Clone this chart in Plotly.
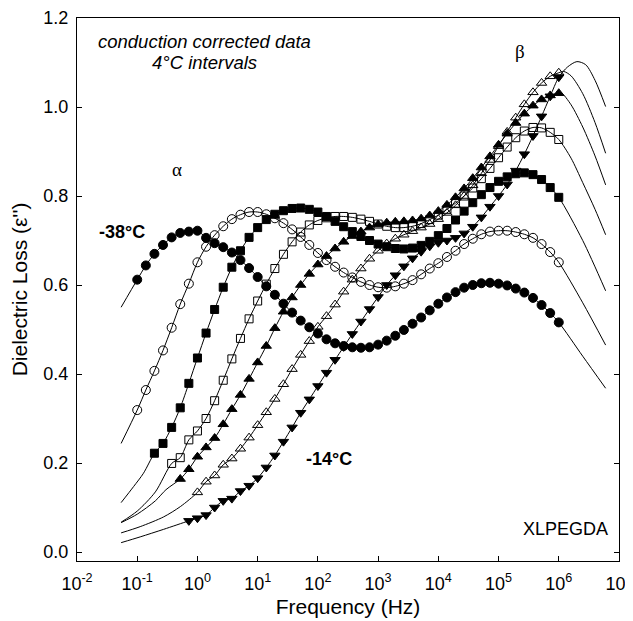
import plotly.graph_objects as go

# Measurement frequencies (Hz), 7 points per decade
FREQ = [0.1, 0.139, 0.193, 0.268, 0.373, 0.518, 0.72,
        1.0, 1.39, 1.93, 2.68, 3.73, 5.18, 7.2,
        10, 13.9, 19.3, 26.8, 37.3, 51.8, 72,
        100, 139, 193, 268, 373, 518, 720,
        1e3, 1.39e3, 1.93e3, 2.68e3, 3.73e3, 5.18e3, 7.2e3,
        1e4, 1.39e4, 1.93e4, 2.68e4, 3.73e4, 5.18e4, 7.2e4,
        1e5, 1.39e5, 1.93e5, 2.68e5, 3.73e5, 5.18e5, 7.2e5,
        1e6]

TEMPS = ["-38°C", "-34°C", "-30°C", "-26°C", "-22°C", "-18°C", "-14°C"]
START = [0, 0, 2, 4, 5, 7, 6]   # index into FREQ of first measured point

Y_M38 = [0.612, 0.644, 0.670, 0.690, 0.707, 0.717, 0.720, 0.722, 0.706, 0.694,
         0.685, 0.673, 0.656, 0.638, 0.618, 0.597, 0.578, 0.558, 0.538, 0.520,
         0.505, 0.491, 0.478, 0.469, 0.463, 0.460, 0.459, 0.460, 0.466, 0.475,
         0.486, 0.499, 0.513, 0.527, 0.543, 0.558, 0.572, 0.584, 0.594, 0.600,
         0.604, 0.605, 0.603, 0.599, 0.592, 0.583, 0.571, 0.555, 0.537, 0.516]
Y_M34 = [0.319, 0.364, 0.407, 0.453, 0.504, 0.557, 0.603, 0.651, 0.686, 0.712,
         0.732, 0.748, 0.758, 0.764, 0.764, 0.759, 0.750, 0.739, 0.725, 0.708,
         0.690, 0.672, 0.656, 0.641, 0.628, 0.617, 0.607, 0.600, 0.595, 0.594,
         0.597, 0.603, 0.611, 0.624, 0.637, 0.649, 0.663, 0.677, 0.692, 0.704,
         0.714, 0.720, 0.722, 0.722, 0.719, 0.714, 0.706, 0.692, 0.674, 0.651]
Y_M30 = [0.222, 0.244, 0.280, 0.324, 0.379, 0.436, 0.492, 0.545, 0.595, 0.640,
         0.677, 0.707, 0.729, 0.747, 0.759, 0.767, 0.772, 0.773, 0.770, 0.764,
         0.754, 0.743, 0.731, 0.720, 0.709, 0.700, 0.692, 0.686, 0.682, 0.681,
         0.683, 0.689, 0.698, 0.711, 0.727, 0.746, 0.766, 0.785, 0.803, 0.819,
         0.833, 0.843, 0.850, 0.852, 0.848, 0.837, 0.819, 0.797]
Y_M26 = [0.199, 0.212, 0.252, 0.272, 0.300, 0.340, 0.386, 0.434, 0.480, 0.524,
         0.564, 0.602, 0.637, 0.669, 0.697, 0.719, 0.735, 0.745, 0.751, 0.754,
         0.754, 0.752, 0.748, 0.743, 0.737, 0.732, 0.729, 0.729, 0.732, 0.738,
         0.747, 0.757, 0.770, 0.784, 0.800, 0.818, 0.839, 0.862, 0.886, 0.910,
         0.931, 0.946, 0.954, 0.953, 0.943, 0.927]
Y_M22 = [0.164, 0.186, 0.214, 0.235, 0.256, 0.287, 0.321, 0.353, 0.389, 0.426,
         0.463, 0.503, 0.540, 0.572, 0.600, 0.625, 0.646, 0.665, 0.682, 0.697,
         0.710, 0.720, 0.729, 0.736, 0.740, 0.742, 0.743, 0.745, 0.749, 0.756,
         0.766, 0.780, 0.797, 0.817, 0.840, 0.864, 0.889, 0.915, 0.940, 0.964,
         0.985, 1.003, 1.017, 1.026, 1.031]
Y_M18 = [0.134, 0.158, 0.172, 0.196, 0.210, 0.232, 0.257, 0.285, 0.314, 0.344,
         0.377, 0.411, 0.443, 0.474, 0.506, 0.530, 0.556, 0.585, 0.612, 0.637,
         0.659, 0.677, 0.693, 0.704, 0.713, 0.721, 0.729, 0.737, 0.748, 0.762,
         0.779, 0.800, 0.824, 0.851, 0.881, 0.912, 0.944, 0.976, 1.006, 1.033,
         1.054, 1.069, 1.077]
Y_M14 = [0.070, 0.076, 0.083, 0.100, 0.115, 0.120, 0.137, 0.149, 0.166, 0.190,
         0.217, 0.248, 0.280, 0.313, 0.343, 0.373, 0.403, 0.432, 0.461, 0.490,
         0.518, 0.546, 0.573, 0.600, 0.622, 0.642, 0.660, 0.675, 0.687, 0.695,
         0.700, 0.706, 0.716, 0.731, 0.752, 0.776, 0.800, 0.826, 0.857, 0.894,
         0.935, 0.979, 1.024, 1.067]
Y_ALL = [Y_M38, Y_M34, Y_M30, Y_M26, Y_M22, Y_M18, Y_M14]

FIT_LO_F = [[0.054], [0.054], [0.054, 0.087, 0.127], [0.054, 0.1, 0.2],
            [0.054, 0.1, 0.2, 0.3], [0.054, 0.112, 0.275, 0.52], [0.054, 0.112, 0.275]]
FIT_LO_Y = [[0.55], [0.244], [0.111, 0.147, 0.177], [0.067, 0.092, 0.135],
            [0.066, 0.085, 0.115, 0.14], [0.043, 0.057, 0.079, 0.102], [0.021, 0.034, 0.051]]
FIT_HI_F = [[2.5e6, 6e6], [2.5e6, 6e6], [2.5e6, 6e6], [1.6e6, 2.5e6, 4e6, 6e6],
            [1.1e6, 1.6e6, 2.5e6, 4e6, 6e6], [1.2e6, 1.6e6, 2.5e6, 4e6, 6e6],
            [1.4e6, 2e6, 2.8e6, 4e6, 6e6]]
FIT_HI_Y = [[0.44, 0.368], [0.56, 0.465], [0.70, 0.587], [0.885, 0.83, 0.77, 0.713],
            [1.032, 1.005, 0.955, 0.89, 0.825], [1.08, 1.07, 1.03, 0.965, 0.896],
            [1.09, 1.102, 1.095, 1.06, 1.001]]

SYMBOLS = ["circle", "circle-open", "square", "square-open",
           "triangle-up", "triangle-up-open", "triangle-down"]
SIZES = [9, 9, 8, 8, 9, 9, 9]

fig = go.Figure()
for i in range(len(TEMPS)):
    f_meas = FREQ[START[i]:START[i] + len(Y_ALL[i])]
    fx = FIT_LO_F[i] + f_meas + FIT_HI_F[i]
    fy = FIT_LO_Y[i] + Y_ALL[i] + FIT_HI_Y[i]
    fig.add_trace(go.Scatter(x=fx, y=fy, mode="lines",
                             line=dict(color="black", width=1, shape="spline", smoothing=0.8),
                             showlegend=False, hoverinfo="skip"))
for i in range(len(TEMPS)):
    f_meas = FREQ[START[i]:START[i] + len(Y_ALL[i])]
    fig.add_trace(go.Scatter(x=f_meas, y=Y_ALL[i], mode="markers", name=TEMPS[i],
                             marker=dict(symbol=SYMBOLS[i], size=SIZES[i], color="black",
                                         line=dict(color="black", width=1)),
                             showlegend=False))

FONT = "Arial, Liberation Sans, sans-serif"
XT = [1e-2, 1e-1, 1, 1e1, 1e2, 1e3, 1e4, 1e5, 1e6, 1e7]
XT_TXT = ["10<sup>-2</sup>", "10<sup>-1</sup>", "10<sup>0</sup>", "10<sup>1</sup>",
          "10<sup>2</sup>", "10<sup>3</sup>", "10<sup>4</sup>", "10<sup>5</sup>",
          "10<sup>6</sup>", "10<sup>7</sup>"]

# page has an 8px body margin, so plot margins are offset to compensate
fig.update_layout(
    width=633, height=621,
    margin=dict(l=69, r=22, t=10, b=68),
    paper_bgcolor="white", plot_bgcolor="white",
    font=dict(family=FONT, size=18, color="black"),
    xaxis=dict(type="log", range=[-2, 7], tickvals=XT, ticktext=XT_TXT,
               ticks="inside", ticklen=5, tickcolor="black", showgrid=False,
               zeroline=False, showline=True, linecolor="black", linewidth=1, mirror=True,
               automargin=False, tickfont=dict(size=18), ticklabelstandoff=6,
               ticklabeloverflow="allow",
               title=dict(text="Frequency (Hz)", font=dict(size=21), standoff=6)),
    yaxis=dict(range=[-0.0202, 1.2], tickvals=[0, 0.2, 0.4, 0.6, 0.8, 1.0, 1.2],
               tickformat=".1f", ticks="inside", ticklen=5, tickcolor="black",
               showgrid=False, zeroline=False, showline=True, linecolor="black",
               linewidth=1, mirror="ticks", automargin=False, tickfont=dict(size=18),
               ticklabelstandoff=4,
               title=dict(text="Dielectric Loss (ε'')", font=dict(size=21), standoff=10)),
)

ANN = [
    dict(x=0.113, y=1.147, text="<i>conduction corrected data</i>", size=18.5, fam=FONT),
    dict(x=0.113, y=1.099, text="<i>4°C intervals</i>", size=18.5, fam=FONT),
    dict(x=-0.335, y=0.859, text="α", size=19, fam="Liberation Serif, serif"),
    dict(x=5.36, y=1.124, text="β", size=19, fam="Liberation Serif, serif"),
    dict(x=-1.253, y=0.72, text="<b>-38°C</b>", size=18, fam=FONT),
    dict(x=2.184, y=0.208, text="<b>-14°C</b>", size=18, fam=FONT),
    dict(x=6.105, y=0.051, text="XLPEGDA", size=18, fam=FONT),
]
for a in ANN:
    fig.add_annotation(x=a["x"], y=a["y"], xref="x", yref="y", text=a["text"],
                       showarrow=False, font=dict(family=a["fam"], size=a["size"], color="black"))

fig.write_html("out.html")
